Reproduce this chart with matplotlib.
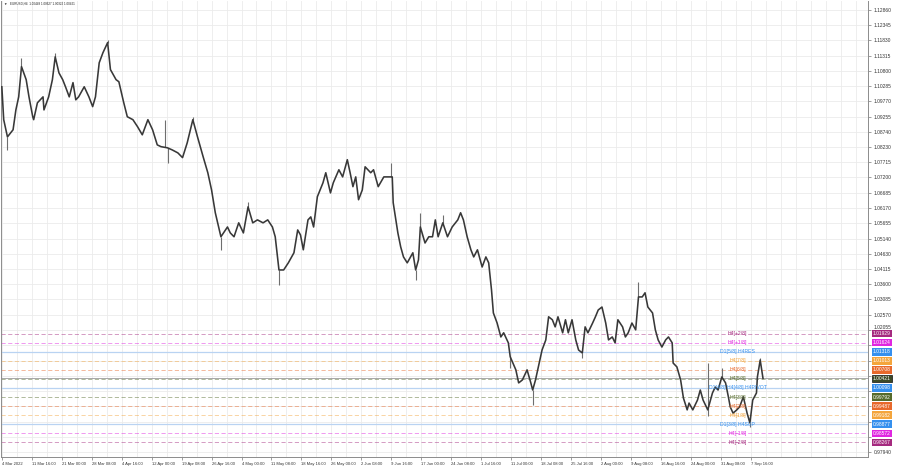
import matplotlib
matplotlib.use("Agg")
import matplotlib.pyplot as plt
import matplotlib.transforms as mtransforms
import numpy as np

# EURUSD H4 price trace (bar index from 4 Mar 2022 08:00)
bars = [0, 2, 6, 12, 15, 18, 21, 26, 29, 33,
        34, 38, 44, 45, 50, 54, 57, 61, 65, 68,
        72, 76, 79, 82, 88, 93, 97, 100, 104, 108,
        113, 116, 122, 125, 130, 134, 140, 145, 150, 156,
        161, 166, 170, 177, 182, 188, 193, 198, 204, 209,
        215, 220, 224, 228, 234, 241, 244, 248, 253, 258,
        263, 268, 273, 279, 284, 289, 292, 296, 301, 306,
        312, 316, 319, 322, 327, 330, 333, 337, 343, 346,
        351, 354, 360, 364, 369, 372, 375, 378, 381, 385,
        388, 394, 397, 402, 408, 413, 417, 418, 423, 426,
        429, 433, 439, 442, 445, 447, 452, 456, 460, 463,
        466, 471, 476, 481, 487, 490, 493, 497, 501, 504,
        508, 513, 517, 520, 523, 525, 529, 533, 536, 541,
        543, 549, 552, 556, 561, 565, 567, 570, 573, 577,
        581, 584, 588, 591, 594, 599, 602, 605, 609, 613,
        616, 620, 623, 626, 631, 634, 637, 641, 645, 648,
        652, 655, 658, 663, 666, 669, 673, 677, 680, 684,
        687, 690, 695, 698, 701, 705, 709, 712, 716, 717,
        721, 725, 728, 732, 734, 738, 743, 746, 749, 754,
        759, 762, 765, 769, 773, 776, 778, 781, 785, 788,
        792, 796, 799, 802, 806, 807, 810, 813]
prices = [1.1026, 1.0915, 1.0857, 1.0881, 1.0948, 1.0992, 1.1094, 1.1050, 1.0992, 1.0925,
          1.0915, 1.0972, 1.0992, 1.0948, 1.0992, 1.1050, 1.1127, 1.1073, 1.1050, 1.1026,
          1.0992, 1.1040, 1.0982, 1.0992, 1.1026, 1.0992, 1.0959, 1.0992, 1.1107, 1.1141,
          1.1175, 1.1084, 1.1050, 1.1043, 1.0975, 1.0925, 1.0915, 1.0891, 1.0864, 1.0915,
          1.0881, 1.0830, 1.0824, 1.0820, 1.0813, 1.0803, 1.0787, 1.0837, 1.0915, 1.0857,
          1.0790, 1.0736, 1.0678, 1.0601, 1.0520, 1.0553, 1.0533, 1.0520, 1.0567, 1.0533,
          1.0621, 1.0567, 1.0577, 1.0567, 1.0577, 1.0553, 1.0520, 1.0408, 1.0408, 1.0432,
          1.0466, 1.0543, 1.0526, 1.0476, 1.0577, 1.0587, 1.0553, 1.0655, 1.0702, 1.0736,
          1.0668, 1.0702, 1.0746, 1.0722, 1.0780, 1.0736, 1.0689, 1.0722, 1.0645, 1.0678,
          1.0756, 1.0736, 1.0746, 1.0689, 1.0722, 1.0722, 1.0722, 1.0635, 1.0533, 1.0486,
          1.0452, 1.0432, 1.0466, 1.0408, 1.0442, 1.0553, 1.0499, 1.0520, 1.0520, 1.0577,
          1.0520, 1.0567, 1.0520, 1.0553, 1.0577, 1.0601, 1.0577, 1.0520, 1.0476, 1.0452,
          1.0476, 1.0418, 1.0452, 1.0432, 1.0341, 1.0263, 1.0229, 1.0182, 1.0196, 1.0162,
          1.0115, 1.0071, 1.0027, 1.0037, 1.0071, 1.0027, 1.0003, 1.0037, 1.0081, 1.0138,
          1.0172, 1.0250, 1.0240, 1.0216, 1.0250, 1.0196, 1.0240, 1.0196, 1.0240, 1.0172,
          1.0138, 1.0128, 1.0216, 1.0196, 1.0229, 1.0250, 1.0273, 1.0283, 1.0229, 1.0172,
          1.0182, 1.0162, 1.0240, 1.0216, 1.0182, 1.0196, 1.0229, 1.0206, 1.0317, 1.0317,
          1.0331, 1.0283, 1.0263, 1.0206, 1.0172, 1.0148, 1.0172, 1.0182, 1.0162, 1.0094,
          1.0081, 1.0037, 0.9976, 0.9936, 0.9959, 0.9936, 0.9969, 1.0003, 0.9969, 0.9936,
          0.9993, 1.0013, 1.0003, 1.0047, 1.0027, 0.9980, 0.9946, 0.9925, 0.9936, 0.9946,
          0.9980, 0.9925, 0.9892, 0.9969, 0.9993, 1.0047, 1.0104, 1.00421]

# long wicks (bar, high, low)
wick_bars = [6, 21, 57, 113, 174, 177, 204, 234, 263, 296, 416, 442,
             447, 471, 543, 567, 620, 680, 754, 769, 799, 810]
wick_hi = [1.0857, 1.1124, 1.1141, 1.1185, 1.0915, 1.0820, 1.0925, 1.0520, 1.0638, 1.0408, 1.0769, 1.0408,
           1.0601, 1.0594, 1.0115, 1.0003, 1.0128, 1.0366, 1.0094, 1.0077, 0.9892, 1.0111]
wick_lo = [1.0813, 1.1094, 1.1127, 1.1175, 1.0824, 1.0769, 1.0915, 1.0476, 1.0621, 1.0357, 1.0722, 1.0375,
           1.0553, 1.0567, 1.0078, 0.9953, 1.0111, 1.0317, 0.9915, 1.0047, 0.9878, 1.0104]

time_labels = ["4 Mar 2022", "11 Mar 16:00", "21 Mar 00:00", "28 Mar 08:00", "4 Apr 16:00",
               "12 Apr 00:00", "19 Apr 08:00", "26 Apr 16:00", "4 May 00:00", "11 May 08:00",
               "18 May 16:00", "26 May 00:00", "2 Jun 08:00", "9 Jun 16:00", "17 Jun 00:00",
               "24 Jun 08:00", "1 Jul 16:00", "11 Jul 00:00", "18 Jul 08:00", "25 Jul 16:00",
               "2 Aug 00:00", "9 Aug 08:00", "16 Aug 16:00", "24 Aug 00:00", "31 Aug 08:00",
               "7 Sep 16:00"]
price_ticks = [1.12860, 1.12345, 1.11830, 1.11315, 1.10800, 1.10285, 1.09770, 1.09255,
               1.08740, 1.08230, 1.07715, 1.07200, 1.06685, 1.06170, 1.05655, 1.05140,
               1.04630, 1.04115, 1.03600, 1.03085, 1.02570, 1.02055, 1.01540, 1.01025,
               1.00510, 0.99995, 0.99480, 0.98965, 0.98450, 0.97940]

# Murrey math levels
level_prices = [1.01929, 1.01624, 1.01318, 1.01013, 1.00708, 1.00403, 1.00098,
                0.99792, 0.99487, 0.99182, 0.98877, 0.98572, 0.98267]
level_names = ["H4[+2/8]", "H4[+1/8]", "D1[5/8] H4RES", "H4[7/8]", "H4[6/8]", "H4[5/8]",
               "D1[4/8] H4[4/8] H4PIVOT", "H4[3/8]", "H4[2/8]", "H4[1/8]", "D1[3/8] H4SUP",
               "H4[-1/8]", "H4[-2/8]"]
level_colors = ["#a52a7f", "#e026e0", "#3590ee", "#f4a53c", "#e8692c", "#566b2c", "#3590ee",
                "#566b2c", "#e8692c", "#f4a53c", "#3590ee", "#e026e0", "#a52a7f"]
level_solid = [False, False, True, False, False, False, True,
               False, False, False, True, False, False]

header = "EURUSD,H4  1.00449 1.00627 1.00322 1.00421"
last_price = 1.00421

plt.rcParams["font.family"] = ["Liberation Sans", "DejaVu Sans"]
fs_x = 3.0
fs_y = 3.5
fig = plt.figure(figsize=(9, 4.68), dpi=100)
ax = fig.add_axes([0.001, 0.0235, 0.9633, 0.975])
ax.set_xlim(-1, 925)
ax.set_ylim(0.97770, 1.13164)

# grid and scales
ax.set_xticks(np.arange(0, 32 * len(time_labels), 32))
ax.set_xticklabels(time_labels, fontsize=fs_x, ha="left", color="#333333")
ax.set_xticks(np.arange(0, 925, 16), minor=True)
ax.yaxis.tick_right()
ax.set_yticks(price_ticks)
# labels that sit behind the coloured level boxes are not visible
ylabels = [f"{p:.5f}" if (p > 1.0200 or p < 0.9810) else "" for p in price_ticks]
ax.set_yticklabels(ylabels, fontsize=fs_y, color="#333333")
ax.tick_params(axis="x", which="major", length=2, pad=1.5, width=0.5, color="#777777")
ax.tick_params(axis="x", which="minor", length=0)
ax.tick_params(axis="y", length=2, pad=2, width=0.5, color="#777777")
for t in ax.yaxis.get_major_ticks():
    if t.label2.get_text() == "1.02055":
        t.label2.set_va("bottom")   # sits just on top of the first level box
ax.grid(True, which="both", color="#ebebeb", lw=0.6)
ax.set_axisbelow(True)
for s in ax.spines.values():
    s.set_color("#8c8c8c")
    s.set_linewidth(0.7)
ax.spines["top"].set_visible(False)

# levels
for p, c, solid in zip(level_prices, level_colors, level_solid):
    if solid:
        ax.axhline(p, color="#b9d3f2", lw=0.9, zorder=1)
    else:
        ax.axhline(p, color=c, lw=0.6, ls=(0, (5, 3)), alpha=0.55, zorder=1)
ax.axhline(last_price, color="#9a9a9a", lw=0.6, zorder=1)

# price
ax.vlines(wick_bars, wick_lo, wick_hi, color="#6e6e6e", lw=0.8, zorder=3)
ax.plot(bars, prices, color="#383838", lw=1.15, zorder=4)

# level captions on chart
for p, name, c in zip(level_prices, level_names, level_colors):
    ax.text(786, p, name, fontsize=3.7, color=c, ha="center", va="center", zorder=5)

# coloured price boxes on the right scale
trans = mtransforms.blended_transform_factory(ax.transAxes, ax.transData)
for p, c in zip(level_prices, level_colors):
    if abs(p - last_price) < 0.0005:
        continue
    ax.text(1.006, p, f"{p:.5f}", transform=trans, fontsize=fs_y, color="white",
            ha="left", va="center", zorder=6, clip_on=False,
            bbox=dict(boxstyle="square,pad=0.25", fc=c, ec="none"))
ax.text(1.006, last_price, f"{last_price:.5f}", transform=trans, fontsize=fs_y, color="white",
        ha="left", va="center", zorder=7, clip_on=False,
        bbox=dict(boxstyle="square,pad=0.25", fc="#3d4a26", ec="#111111", lw=0.5))

ax.text(0.003, 0.993, "\u25bc", transform=ax.transAxes, fontsize=2.5, color="#222222", va="center")
ax.text(0.010, 0.993, header, transform=ax.transAxes, fontsize=2.2, color="#222222", va="center")

fig.savefig("out.png", dpi=100, facecolor="white")
